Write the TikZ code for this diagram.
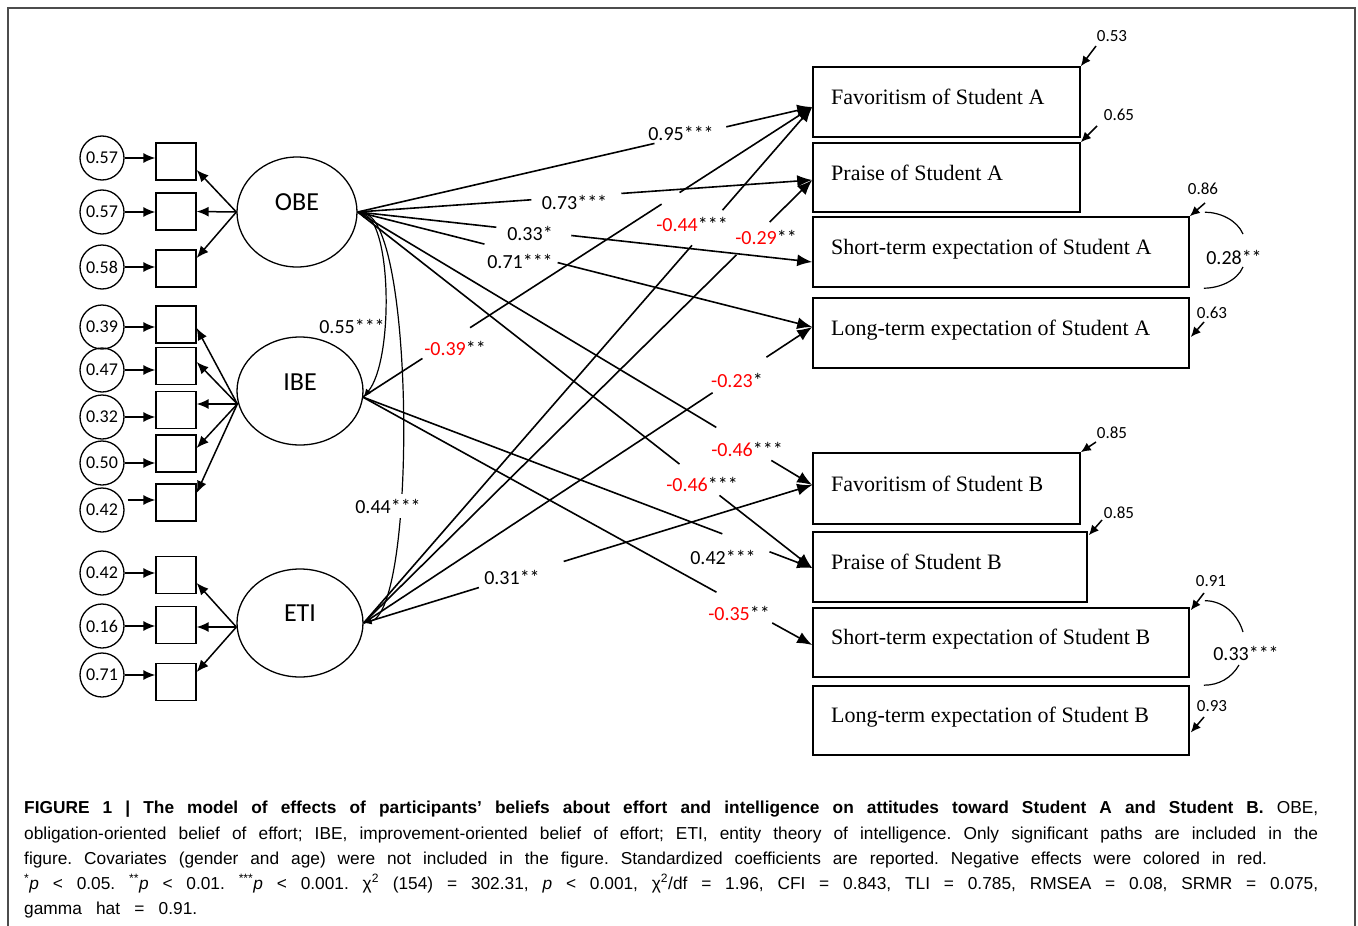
\documentclass[tikz,border=0pt]{standalone}
\usepackage{fontspec}
\usetikzlibrary{arrows.meta,calc,shapes.geometric}
\newfontfamily\lblf{Carlito}
\newfontfamily\serf{Liberation Serif}
\newfontfamily\capf{Liberation Sans}
\newcommand\gapline[4]{%
  \draw[pth] (#1) -- ($(#1)!#3!(#2)$);
  \draw[parr] ($(#1)!#4!(#2)$) -- (#2);}
\newcommand\ngv[1]{\textcolor{red}{#1}}
\frenchspacing
\begin{document}
\begin{tikzpicture}[x=1pt,y=-1pt,
  lat/.style={draw,ellipse,line width=1.3pt,inner sep=0pt},
  lattxt/.style={font=\lblf\fontsize{26}{26}\selectfont,inner sep=0pt},
  ind/.style={draw,rectangle,line width=1.3pt,minimum width=40pt,minimum height=37pt,inner sep=0pt},
  err/.style={draw,circle,line width=1.3pt,minimum size=44pt,inner sep=0pt,font=\lblf\fontsize{18}{18}\selectfont},
  outbox/.style={draw,rectangle,line width=1.6pt,minimum height=70pt,inner sep=0pt},
  outtxt/.style={anchor=base west,inner sep=0pt,font=\serf\fontsize{22}{22}\selectfont},
  plbl/.style={inner sep=0pt,font=\lblf\fontsize{20}{20}\selectfont},
  rlbl/.style={inner sep=0pt,font=\lblf\fontsize{17}{17}\selectfont},
  caplbl/.style={anchor=base west,inner sep=0pt,font=\capf\fontsize{17.3}{20}\selectfont},
  pth/.style={line width=1.6pt},
  parr/.style={line width=1.6pt,-{Latex[length=15pt,width=12pt]}},
  indarr/.style={line width=1.5pt,-{Latex[length=12pt,width=10pt]}},
  resarr/.style={line width=1.5pt,-{Latex[length=10pt,width=9pt]}},
  cov/.style={line width=1.2pt,{Latex[length=8pt,width=7pt]}-{Latex[length=8pt,width=7pt]}},
  corr/.style={line width=1.2pt}]
\useasboundingbox (0,0) rectangle (1358,926);
% frame
\draw[line width=1.2pt,black!70] (8,926) -- (8,8) -- (1355,8) -- (1355,926);

% latent variables
\node[lat,minimum width=120pt,minimum height=110pt] (obe) at (297,212) {};
\node[lattxt] (obeT) at (297,202) {OBE};
\node[lat,minimum width=126pt,minimum height=108pt] (ibe) at (300,391) {};
\node[lattxt] (ibeT) at (300,382) {IBE};
\node[lat,minimum width=126pt,minimum height=108pt] (eti) at (300,623) {};
\node[lattxt] (etiT) at (300,613) {ETI};

% indicators
\node[ind] (i1) at (176,161.5) {};
\node[ind] (i2) at (176,211.5) {};
\node[ind] (i3) at (176,268.5) {};
\node[ind] (i4) at (176,324.5) {};
\node[ind] (i5) at (176,366) {};
\node[ind] (i6) at (176,410) {};
\node[ind] (i7) at (176,453.5) {};
\node[ind] (i8) at (176,502.5) {};
\node[ind] (i9) at (176,575) {};
\node[ind] (i10) at (176,625) {};
\node[ind] (i11) at (176,682) {};

% error terms
\node[err] (e1) at (102,158) {0.57};
\node[err] (e2) at (102,212) {0.57};
\node[err] (e3) at (102,267) {0.58};
\node[err] (e4) at (102,327) {0.39};
\node[err] (e5) at (102,370) {0.47};
\node[err] (e6) at (102,417) {0.32};
\node[err] (e7) at (102,463) {0.50};
\node[err] (e8) at (102,510) {0.42};
\node[err] (e9) at (102,573) {0.42};
\node[err] (e10) at (102,626) {0.16};
\node[err] (e11) at (102,675) {0.71};

\foreach \k in {1,2,3,4,5,6,7,9,10,11}{
  \draw[indarr] (e\k.east) -- (e\k.east -| i\k.west);
}
\draw[indarr] ($(e8.east)+(3,-10)$) -- ($(i8.west)+(0,-2.5)$);

% loadings
\draw[indarr] (obe.west) -- ($(i1.east)+(0,8.5)$);
\draw[indarr] (obe.west) -- (i2.east);
\draw[indarr] (obe.west) -- ($(i3.east)+(0,-10.5)$);
\coordinate (ibeW) at ($(ibe.west)+(1,13)$);
\draw[indarr] (ibeW) -- ($(i4.east)+(0,3.5)$);
\draw[indarr] (ibeW) -- ($(i5.east)+(0,-4)$);
\draw[indarr] (ibeW) -- ($(i6.east)+(0,-6)$);
\draw[indarr] (ibeW) -- ($(i7.east)+(0,-5.5)$);
\draw[indarr] (ibeW) -- ($(i8.east)+(0,-9.5)$);
\coordinate (etiW) at ($(eti.west)+(0,4)$);
\draw[indarr] (etiW) -- ($(i9.east)+(0,8)$);
\draw[indarr] (etiW) -- ($(i10.east)+(0,2)$);
\draw[indarr] (etiW) -- ($(i11.east)+(0,-10)$);

% outcome boxes
\node[outbox,minimum width=267pt] (favA) at (946.5,102) {};
\node[outbox,minimum width=267pt,minimum height=69pt] (prA) at (946.5,177.5) {};
\node[outbox,minimum width=376pt] (stA) at (1001,252) {};
\node[outbox,minimum width=376pt] (ltA) at (1001,333) {};
\node[outbox,minimum width=267pt,minimum height=71pt] (favB) at (946.5,488.5) {};
\node[outbox,minimum width=274pt] (prB) at (950,567) {};
\node[outbox,minimum width=376pt,minimum height=69pt] (stB) at (1001,642.5) {};
\node[outbox,minimum width=376pt,minimum height=69pt] (ltB) at (1001,720.5) {};

\node[outtxt] (favAt) at (831,104) {Favoritism of Student A};
\node[outtxt] (prAt) at (831,180) {Praise of Student A};
\node[outtxt] (stAt) at (831,254) {Short-term expectation of Student A};
\node[outtxt] (ltAt) at (831,335) {Long-term expectation of Student A};
\node[outtxt] (favBt) at (831,491) {Favoritism of Student B};
\node[outtxt] (prBt) at (831,569) {Praise of Student B};
\node[outtxt] (stBt) at (831,644.5) {Short-term expectation of Student B};
\node[outtxt] (ltBt) at (831,722.5) {Long-term expectation of Student B};

% structural paths
\coordinate (sO) at (obe.east);
\coordinate (sI) at ($(ibe.east)+(-1,6)$);
\coordinate (sE) at (eti.east);
\coordinate (tFA) at ($(favA.west)+(0,5)$);
\coordinate (tPA) at ($(prA.west)+(0,2.5)$);
\coordinate (tSA) at ($(stA.west)+(0,10)$);
\coordinate (tLA) at ($(ltA.west)+(0,-6)$);
\coordinate (tFB) at ($(favB.west)+(0,-3.5)$);
\coordinate (tPB) at ($(prB.west)+(0,1)$);
\coordinate (tSB) at ($(stB.west)+(0,2.5)$);

\gapline{sO}{tFA}{0.653}{0.811}
\gapline{sO}{tPA}{0.382}{0.58}
\gapline{sO}{tSA}{0.305}{0.47}
\gapline{sO}{tLA}{0.279}{0.44}
\gapline{sO}{tFB}{0.789}{0.91}
\gapline{sO}{tPB}{0.708}{0.796}
\draw[pth] (sI) -- ($(sI)!0.133!(tFA)$);
\draw[pth] ($(sI)!0.239!(tFA)$) -- ($(sI)!0.665!(tFA)$);
\draw[parr] ($(sI)!0.705!(tFA)$) -- (tFA);
\gapline{sE}{tFA}{0.732}{0.80}
\gapline{sE}{tPA}{0.831}{0.905}
\gapline{sE}{tLA}{0.778}{0.898}
\gapline{sE}{tFB}{0.257}{0.446}
\gapline{sI}{tPB}{0.80}{0.905}
\gapline{sI}{tSB}{0.787}{0.911}

\node[plbl] (l1) at (681,133) {0.95***};
\node[plbl] (l2) at (574.5,202) {0.73***};
\node[plbl] (l3) at (530,233) {0.33*};
\node[plbl] (l4) at (520,261) {0.71***};
\node[plbl] (l5) at (692,224) {\ngv{-0.44}***};
\node[plbl] (l6) at (766,237) {\ngv{-0.29}**};
\node[plbl] (l7) at (455,348) {\ngv{-0.39}**};
\node[plbl] (l8) at (737,380) {\ngv{-0.23}*};
\node[plbl] (l9) at (747,449) {\ngv{-0.46}***};
\node[plbl] (l10) at (702,484) {\ngv{-0.46}***};
\node[plbl] (l11) at (723,557) {0.42***};
\node[plbl] (l12) at (512,577) {0.31**};
\node[plbl] (l13) at (739,613) {\ngv{-0.35}**};

% covariances among latent variables
\draw[cov] (obe.east) .. controls +(34,13) and +(30,-37) .. ($(ibe.east)+(0,6)$);
\draw[cov] (obe.east) .. controls +(57,13) and +(53,-13) .. (eti.east);
\node[plbl] (c1) at (352,326) {0.55***};
\node[plbl,fill=white,inner xsep=1pt,inner ysep=5pt] (c2) at (388,506) {0.44***};

% residuals
\coordinate (r1s) at (1096,46);
\draw[resarr] (r1s) -- (favA.north east);
\node[rlbl] (r1) at (1112,36) {0.53};
\coordinate (r2s) at (1097,126);
\draw[resarr] (r2s) -- (prA.north east);
\node[rlbl] (r2) at (1119,115) {0.65};
\coordinate (r3s) at (1205,203);
\draw[resarr] (r3s) -- (stA.north east);
\node[rlbl] (r3) at (1203,189) {0.86};
\coordinate (r4s) at (1204,322);
\draw[resarr] (r4s) -- ($(ltA.east)+(1,4)$);
\node[rlbl] (r4) at (1212,313) {0.63};
\coordinate (r5s) at (1096,442);
\draw[resarr] (r5s) -- (favB.north east);
\node[rlbl] (r5) at (1112,433) {0.85};
\coordinate (r6s) at (1102,520);
\draw[resarr] (r6s) -- ($(prB.north east)+(1,4)$);
\node[rlbl] (r6) at (1119,513) {0.85};
\coordinate (r7s) at (1204,593);
\draw[resarr] (r7s) -- ($(stB.north east)+(1,3)$);
\node[rlbl] (r7) at (1211,581) {0.91};
\coordinate (r8s) at (1204,717);
\draw[resarr] (r8s) -- ($(ltB.east)+(1,12)$);
\node[rlbl] (r8) at (1212,706) {0.93};

% residual correlations
\coordinate (k1a) at ($(stA.north east)+(15,-4)$);
\coordinate (k1b) at (1243,234);
\coordinate (k1c) at (1243,267);
\coordinate (k1d) at ($(ltA.north east)+(14,-9)$);
\draw[corr] (k1a) .. controls +(15,0) and +(-6,-14) .. (k1b);
\draw[corr] (k1c) .. controls +(-6,14) and +(15,0) .. (k1d);
\node[plbl] (k1) at (1234,257) {0.28**};
\coordinate (k2a) at ($(stB.north east)+(15,-6.5)$);
\coordinate (k2b) at (1243,632);
\coordinate (k2c) at (1239,665);
\coordinate (k2d) at ($(ltB.north east)+(14,0)$);
\draw[corr] (k2a) .. controls +(18.6,0) and +(-5.3,-17.8) .. (k2b);
\draw[corr] (k2c) .. controls +(-7.5,13) and +(15,0) .. (k2d);
\node[plbl] (k2) at (1246,653) {0.33***};

% caption
\node[caplbl] (cap1) at (24,813) {\makebox[1294pt][s]{\textbf{FIGURE 1 | The model of effects of participants’ beliefs about effort and intelligence on attitudes toward Student A and Student B.} OBE,}};
\node[caplbl] (cap2) at (24,839) {\makebox[1294pt][s]{obligation-oriented belief of effort; IBE, improvement-oriented belief of effort; ETI, entity theory of intelligence. Only significant paths are included in the}};
\node[caplbl] (cap3) at (24,864) {\makebox[1243pt][s]{figure. Covariates (gender and age) were not included in the figure. Standardized coefficients are reported. Negative effects were colored in red.}};
\node[caplbl] (cap4) at (24,889) {\makebox[1294pt][s]{\textsuperscript{*}\textit{p} < 0.05. \textsuperscript{**}\textit{p} < 0.01. \textsuperscript{***}\textit{p} < 0.001. χ\textsuperscript{2} (154) = 302.31, \textit{p} < 0.001, χ\textsuperscript{2}/df = 1.96, CFI = 0.843, TLI = 0.785, RMSEA = 0.08, SRMR = 0.075,}};
\node[caplbl] (cap5) at (24,914) {\makebox[173pt][s]{gamma hat = 0.91.}};
\end{tikzpicture}
\end{document}
